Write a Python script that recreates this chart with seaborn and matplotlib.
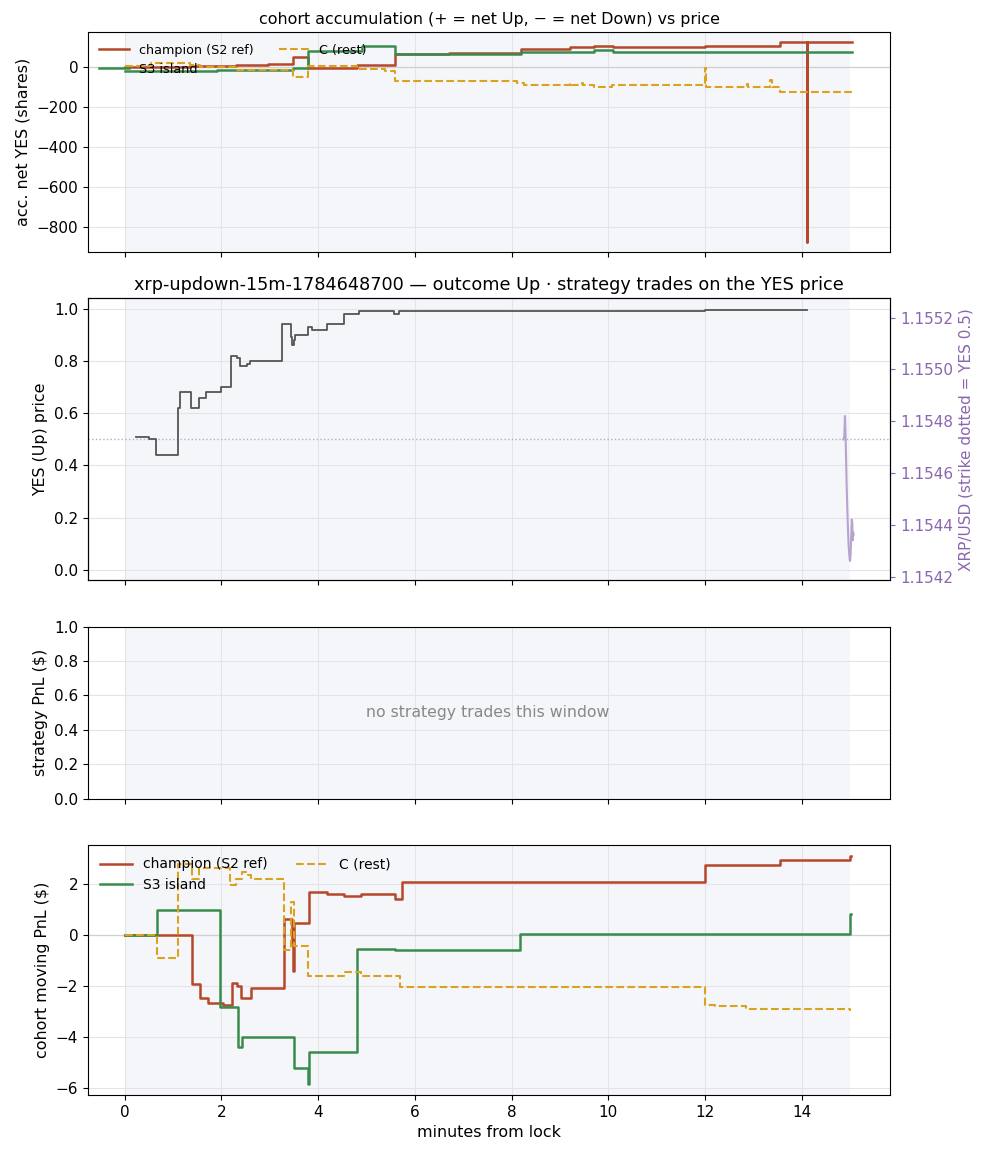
import numpy as np
import pandas as pd
import matplotlib
matplotlib.use("Agg")
import matplotlib.pyplot as plt
import seaborn as sns

# -----------------------------
# data
# -----------------------------
# panel 1: cohort accumulation (shares)
champ_acc_t = [0, 1.35, 2.3, 2.96, 3.48, 3.8, 4.8, 5.6, 6.7, 8.2, 9.2, 9.7, 10.1, 12.0, 13.55, 14.1, 14.11, 15.05]
champ_acc = [0, 5, 10, 15, 50, -5, 10, 65, 70, 90, 98, 106, 98, 105, 123, -875, 123, 123]

s3_acc_t = [0, 1.9, 3.48, 3.8, 4.9, 5.6, 8.2, 9.7, 10.1, 15.05]
s3_acc = [-20, -15, -7, 78, 107, 63, 75, 85, 75, 75]

rest_acc_t = [0, 0.55, 1.35, 1.55, 2.31, 3.49, 3.8, 4.8, 5.38, 5.59, 8.11, 8.25, 9.2, 9.23,
              9.45, 9.48, 9.7, 10.08, 12.0, 12.03, 12.87, 12.9, 13.35, 13.38, 13.56, 15.05]
rest_acc = [5, 18, 10, -2, -15, -48, 7, -12, -18, -68, -82, -88, -78, -88,
            -80, -88, -100, -92, -5, -100, -85, -100, -65, -100, -123, -123]

# panel 2: YES price and XRP/USD
yes_t = [0.23, 0.50, 0.65, 1.10, 1.15, 1.38, 1.53, 1.69, 2.0, 2.2, 2.32, 2.38, 2.52, 2.6,
         3.26, 3.43, 3.47, 3.5, 3.52, 3.8, 3.87, 4.19, 4.53, 4.85, 5.57, 5.67, 12.0, 14.1]
yes_px = [0.51, 0.50, 0.44, 0.62, 0.68, 0.62, 0.66, 0.68, 0.70, 0.82, 0.81, 0.78, 0.79, 0.80,
          0.94, 0.89, 0.86, 0.88, 0.90, 0.93, 0.92, 0.94, 0.98, 0.99, 0.98, 0.99, 0.996, 0.996]

xrp_t = [14.86, 14.88, 14.895, 14.905, 14.915, 14.93, 14.95, 14.97, 14.99, 15.0, 15.01,
         15.025, 15.035, 15.045, 15.055, 15.065, 15.07]
xrp_px = [1.15473, 1.15474, 1.15482, 1.15476, 1.15468, 1.15455, 1.15442, 1.15432, 1.15427,
          1.15426, 1.15428, 1.15436, 1.15442, 1.15441, 1.15434, 1.15437, 1.15436]
strike = 1.15473

# panel 4: cohort moving PnL ($)
champ_pnl_t = [0, 1.39, 1.55, 1.72, 2.03, 2.22, 2.33, 2.41, 2.62, 3.29, 3.46, 3.48, 3.51,
               3.82, 4.19, 4.53, 4.88, 5.58, 5.74, 12.0, 13.55, 15.0, 15.01]
champ_pnl = [0, -1.92, -2.49, -2.68, -2.74, -1.88, -2.0, -2.46, -2.1, 0.62, -0.3, -1.42, 0.48,
             1.66, 1.62, 1.51, 1.62, 1.42, 2.08, 2.74, 2.95, 3.08, 3.08]

s3_pnl_t = [0, 0.67, 1.98, 2.35, 2.42, 3.5, 3.8, 3.82, 4.8, 5.58, 8.17, 15.0, 15.01]
s3_pnl = [0, 0.96, -2.81, -4.4, -4.01, -5.22, -5.83, -4.6, -0.54, -0.6, 0.04, 0.8, 0.8]

rest_pnl_t = [0, 0.66, 1.1, 1.39, 1.53, 2.17, 2.3, 2.42, 2.55, 2.62, 3.29, 3.43, 3.5, 3.8,
              4.53, 4.88, 5.69, 12.0, 12.2, 12.85, 15.0, 15.01]
rest_pnl = [0, -0.91, 2.78, 2.2, 2.6, 1.94, 2.2, 2.46, 2.33, 2.17, -0.58, 1.3, -0.45, -1.62,
            -1.46, -1.6, -2.05, -2.74, -2.78, -2.91, -2.96, -2.96]

# colours
C_CHAMP = "#b5472b"
C_S3 = "#3a8c4e"
C_REST = "#dba21d"
C_XRP = "#8a66b0"
SHADE = "#f5f6fa"

plt.rcParams["font.size"] = 11
plt.rcParams["axes.labelsize"] = 11.4

# -----------------------------
# figure layout
# -----------------------------
fig = plt.figure(figsize=(9.88, 11.56), dpi=100)
gs = fig.add_gridspec(4, 1, height_ratios=[220, 282, 172, 250], hspace=0.2,
                      left=0.089, right=0.901, top=0.9723, bottom=0.0528)
ax1 = fig.add_subplot(gs[0])
ax2 = fig.add_subplot(gs[1], sharex=ax1)
ax3 = fig.add_subplot(gs[2], sharex=ax1)
ax4 = fig.add_subplot(gs[3], sharex=ax1)

for ax in (ax1, ax2, ax3, ax4):
    ax.axvspan(0, 15, color=SHADE, zorder=0, lw=0)
    ax.grid(True, color="#e4e4e8", lw=0.8)
    ax.set_axisbelow(True)


def steps(ax, t, v, color, label=None, ls="-", lw=1.8):
    d = pd.DataFrame({"t": t, "v": v})
    sns.lineplot(data=d, x="t", y="v", ax=ax, color=color, label=label, lw=lw,
                 linestyle=ls, drawstyle="steps-post", estimator=None, sort=False, legend=False)


# 1: accumulation
ax1.axhline(0, color="#d0d0d0", lw=0.9, zorder=1)
steps(ax1, champ_acc_t, champ_acc, C_CHAMP, "champion (S2 ref)")
steps(ax1, s3_acc_t, s3_acc, C_S3, "S3 island")
steps(ax1, rest_acc_t, rest_acc, C_REST, "C (rest)", ls="--", lw=1.5)
ax1.set_ylim(-925, 175)
ax1.set_yticks([-800, -600, -400, -200, 0])
ax1.set_ylabel("acc. net YES (shares)")
ax1.set_xlabel("")
ax1.set_title("cohort accumulation (+ = net Up, \u2212 = net Down) vs price", fontsize=11.4)
ax1.legend(loc="upper left", ncol=2, frameon=False, fontsize=9.2, handlelength=2.3)

# 2: YES price with XRP on the right
ax2.axhline(0.5, color="#b8aac8", lw=1, ls=":", zorder=1)
steps(ax2, yes_t, yes_px, "#555555", lw=1.3)
ax2.set_ylim(-0.04, 1.04)
ax2.set_ylabel("YES (Up) price")
ax2.set_xlabel("")
ax2.set_title("xrp-updown-15m-1784648700 \u2014 outcome Up \u00b7 strategy trades on the YES price",
              fontsize=12.7)
axr = ax2.twinx()
sns.lineplot(x=xrp_t, y=xrp_px, ax=axr, color="#b6a3cf", lw=1.5, estimator=None, sort=False)
axr.set_ylim(strike - 0.000545, strike + 0.000545)
axr.set_yticks([1.1542, 1.1544, 1.1546, 1.1548, 1.1550, 1.1552])
axr.yaxis.set_major_formatter(plt.FormatStrFormatter("%.4f"))
axr.tick_params(axis="y", colors=C_XRP, labelsize=11)
axr.set_ylabel("XRP/USD (strike dotted = YES 0.5)", color=C_XRP, fontsize=11)

# 3: strategy PnL (empty)
ax3.set_ylim(0, 1)
ax3.set_ylabel("strategy PnL ($)")
ax3.text(7.5, 0.5, "no strategy trades this window", ha="center", va="center",
         color="#888888", fontsize=11.3)

# 4: cohort moving PnL
ax4.axhline(0, color="#d0d0d0", lw=0.9, zorder=1)
steps(ax4, champ_pnl_t, champ_pnl, C_CHAMP, "champion (S2 ref)")
steps(ax4, s3_pnl_t, s3_pnl, C_S3, "S3 island")
steps(ax4, rest_pnl_t, rest_pnl, C_REST, "C (rest)", ls="--", lw=1.5)
ax4.set_yticks([-6, -4, -2, 0, 2])
ax4.set_ylabel("cohort moving PnL ($)")
ax4.set_xlabel("minutes from lock")
ax4.legend(loc="upper left", ncol=2, frameon=False, fontsize=10, handlelength=2.3)

ax4.set_xlim(-0.76, 15.83)
ax4.set_xticks(range(0, 15, 2))
for ax in (ax1, ax2, ax3):
    ax.tick_params(labelbottom=False)

fig.savefig("out.png", dpi=100)
